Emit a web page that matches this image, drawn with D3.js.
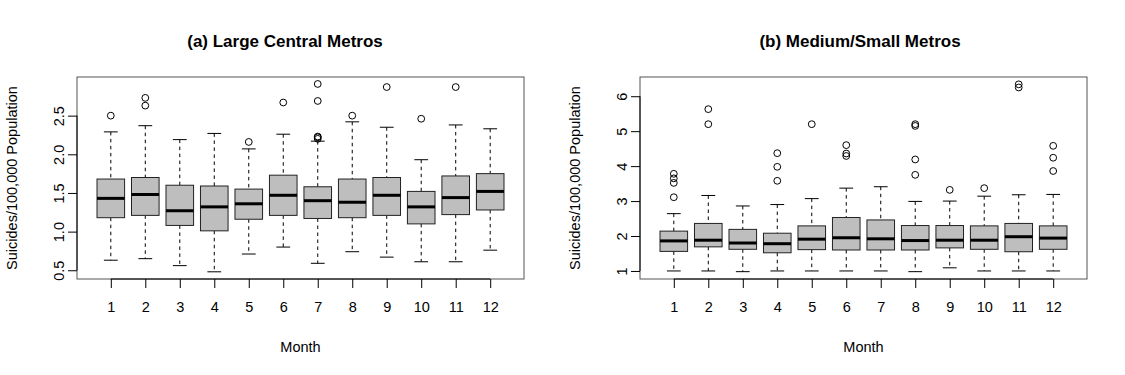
<!DOCTYPE html>
<html>
<head>
<meta charset="utf-8">
<script src="https://cdn.jsdelivr.net/npm/d3@7"></script>
<style>
  body { margin: 0; background: #fff; }
  text { font-family: "Liberation Sans", Arial, Helvetica, sans-serif; fill: #000; }
</style>
</head>
<body>
<script>
// months on the x axis
var months = [1, 2, 3, 4, 5, 6, 7, 8, 9, 10, 11, 12];

// (a) large central metros: whisker ends, quartiles, median, outliers
var largeLo  = [0.63, 0.65, 0.56, 0.48, 0.71, 0.80, 0.59, 0.74, 0.67, 0.61, 0.61, 0.76];
var largeQ1  = [1.18, 1.21, 1.08, 1.01, 1.16, 1.21, 1.17, 1.18, 1.21, 1.10, 1.22, 1.28];
var largeMed = [1.43, 1.48, 1.27, 1.32, 1.36, 1.47, 1.40, 1.38, 1.47, 1.32, 1.44, 1.52];
var largeQ3  = [1.68, 1.70, 1.60, 1.59, 1.55, 1.73, 1.58, 1.68, 1.70, 1.52, 1.72, 1.75];
var largeHi  = [2.29, 2.37, 2.19, 2.27, 2.07, 2.26, 2.17, 2.42, 2.35, 1.93, 2.38, 2.33];
var largeOut = [[2.50], [2.73, 2.63], [], [], [2.16], [2.67],
                [2.91, 2.69, 2.20, 2.22, 2.23], [2.50], [2.87], [2.46], [2.87], []];

// (b) medium/small metros
var medLo  = [1.00, 1.00, 0.98, 1.00, 1.00, 1.00, 1.00, 0.98, 1.09, 1.00, 1.00, 1.00];
var medQ1  = [1.56, 1.69, 1.62, 1.52, 1.61, 1.60, 1.60, 1.60, 1.66, 1.62, 1.55, 1.62];
var medMed = [1.86, 1.88, 1.80, 1.78, 1.91, 1.95, 1.92, 1.87, 1.88, 1.88, 1.98, 1.94];
var medQ3  = [2.14, 2.36, 2.19, 2.08, 2.29, 2.53, 2.46, 2.30, 2.30, 2.29, 2.36, 2.29];
var medHi  = [2.64, 3.16, 2.86, 2.90, 3.07, 3.37, 3.41, 2.99, 3.00, 3.14, 3.18, 3.19];
var medOut = [[3.11, 3.52, 3.65, 3.78], [5.63, 5.20], [], [4.37, 3.98, 3.58], [5.20],
              [4.60, 4.36, 4.29], [], [5.20, 5.15, 4.19, 3.75], [3.32], [3.37],
              [6.34, 6.25], [4.58, 4.24, 3.86]];

var largeTicks = [0.5, 1.0, 1.5, 2.0, 2.5];
var medTicks = [1, 2, 3, 4, 5, 6];

var svg = d3.select("body").append("svg")
    .attr("width", 1125)
    .attr("height", 375);

function panel(opt) {
    var x = d3.scaleLinear().domain([0.02, 12.98]).range([opt.left, opt.right]);
    var y = d3.scaleLinear().domain(opt.domain).range([279, 77]);
    var g = svg.append("g");
    var bw = x(0.4) - x(0);   // half box width
    var sw = x(0.2) - x(0);   // half staple width

    // whiskers (dashed)
    months.forEach(function (m, i) {
        g.append("line").attr("x1", x(m)).attr("x2", x(m))
            .attr("y1", y(opt.hi[i])).attr("y2", y(opt.q3[i]))
            .attr("stroke", "#000").attr("stroke-dasharray", "3.5,3.5");
        g.append("line").attr("x1", x(m)).attr("x2", x(m))
            .attr("y1", y(opt.q1[i])).attr("y2", y(opt.lo[i]))
            .attr("stroke", "#000").attr("stroke-dasharray", "3.5,3.5");
        // staples
        [opt.hi[i], opt.lo[i]].forEach(function (v) {
            g.append("line").attr("x1", x(m) - sw).attr("x2", x(m) + sw)
                .attr("y1", y(v)).attr("y2", y(v))
                .attr("stroke", "#000");
        });
    });

    g.selectAll("rect.box").data(months).enter().append("rect")
        .attr("class", "box")
        .attr("x", function (m) { return x(m) - bw; })
        .attr("width", bw * 2)
        .attr("y", function (m, i) { return y(opt.q3[i]); })
        .attr("height", function (m, i) { return y(opt.q1[i]) - y(opt.q3[i]); })
        .attr("fill", "#bebebe")
        .attr("stroke", "#222")
        .attr("stroke-width", 1);

    g.selectAll("line.med").data(months).enter().append("line")
        .attr("class", "med")
        .attr("x1", function (m) { return x(m) - bw; })
        .attr("x2", function (m) { return x(m) + bw; })
        .attr("y1", function (m, i) { return y(opt.med[i]); })
        .attr("y2", function (m, i) { return y(opt.med[i]); })
        .attr("stroke", "#000")
        .attr("stroke-width", 3);

    months.forEach(function (m, i) {
        opt.out[i].forEach(function (v) {
            g.append("circle").attr("cx", x(m)).attr("cy", y(v)).attr("r", 3.4)
                .attr("fill", "none").attr("stroke", "#000").attr("stroke-width", 1);
        });
    });

    // frame
    g.append("rect").attr("x", opt.left).attr("y", 77)
        .attr("width", opt.right - opt.left).attr("height", 202)
        .attr("fill", "none").attr("stroke", "#555").attr("stroke-width", 1);

    // x axis
    var xa = g.append("g").attr("transform", "translate(0,279)")
        .call(d3.axisBottom(x).tickValues(months).tickSize(9).tickPadding(14).tickFormat(d3.format("d")));
    xa.select(".domain").attr("d", "M" + x(1) + ",0H" + x(12));
    xa.selectAll("text").attr("font-size", 14.5).attr("font-family", "Liberation Sans, Arial, sans-serif");

    // y axis, labels parallel to axis
    var ya = g.append("g").attr("transform", "translate(" + opt.left + ",0)")
        .call(d3.axisLeft(y).tickValues(opt.ticks).tickSize(9).tickFormat(d3.format(opt.fmt)));
    ya.select(".domain").attr("d", "M0," + y(opt.ticks[0]) + "V" + y(opt.ticks[opt.ticks.length - 1]));
    ya.selectAll(".tick text")
        .attr("font-size", 14.5).attr("font-family", "Liberation Sans, Arial, sans-serif")
        .attr("x", null).attr("dy", null)
        .attr("text-anchor", "middle")
        .attr("transform", "translate(-13,0) rotate(-90)");

    g.append("text").attr("x", opt.titleX).attr("y", 47)
        .attr("text-anchor", "middle").attr("font-size", 17).attr("font-weight", "bold")
        .text(opt.title);

    g.append("text").attr("x", (opt.left + opt.right) / 2).attr("y", 352)
        .attr("text-anchor", "middle").attr("font-size", 14.5)
        .text("Month");

    g.append("text")
        .attr("transform", "translate(" + (opt.left - 60) + ",178) rotate(-90)")
        .attr("text-anchor", "middle").attr("font-size", 14.5)
        .text("Suicides/100,000 Population");
}

panel({
    left: 77, right: 524, domain: [0.387, 3.0],
    lo: largeLo, q1: largeQ1, med: largeMed, q3: largeQ3, hi: largeHi, out: largeOut,
    ticks: largeTicks, fmt: ".1f", title: "(a) Large Central Metros", titleX: 285
});

panel({
    left: 640, right: 1087, domain: [0.77, 6.55],
    lo: medLo, q1: medQ1, med: medMed, q3: medQ3, hi: medHi, out: medOut,
    ticks: medTicks, fmt: "d", title: "(b) Medium/Small Metros", titleX: 860
});
</script>
</body>
</html>
